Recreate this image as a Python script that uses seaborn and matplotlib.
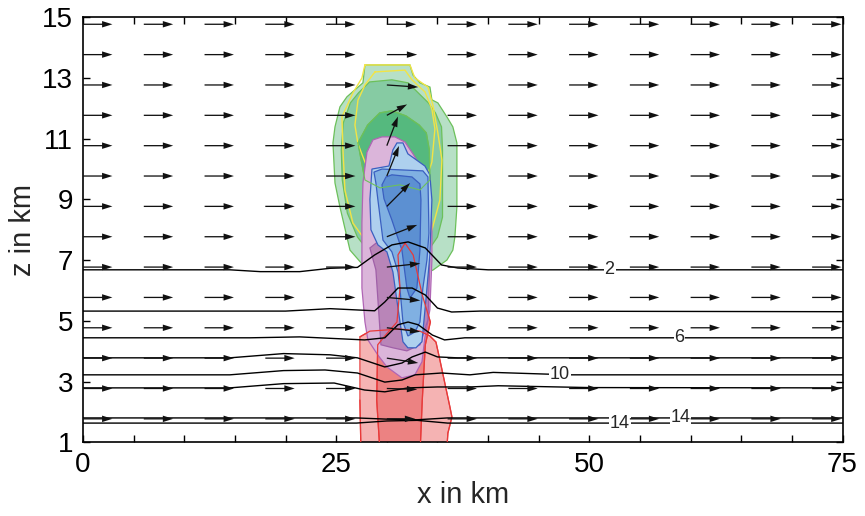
import numpy as np
import pandas as pd
import matplotlib
matplotlib.use("Agg")
import matplotlib.pyplot as plt
from matplotlib.ticker import FixedLocator, MultipleLocator
import seaborn as sns

# ---------------- data ----------------
x_major = [0, 25, 50, 75]
z_major = [1, 3, 5, 7, 9, 11, 13, 15]

# wind vectors (grid of arrow tails)
arrow_x = [0, 6, 12, 18, 24, 30, 36, 42, 48, 54, 60, 66, 72]
arrow_z = [1.77, 2.77, 3.77, 4.77, 5.77, 6.77, 7.77, 8.77, 9.77, 10.77, 11.77, 12.77, 13.77, 14.77]
env_u = 2.9
env_w = 0.0
storm_x = 30
storm_u = [2.8, 3.0, 3.1, 3.3, 3.3, 3.3, 3.0, 2.3, 1.2, 1.1, 2.0, 3.1, 3.0, 2.9]
storm_w = [0.0, -0.03, -0.16, -0.13, -0.10, 0.12, 0.39, 0.77, 0.99, 0.96, 0.36, -0.07, 0.0, 0.0]

# isotherms
iso_a_x = [0, 14.5, 17.5, 21.4, 24.4, 27.1, 28.8, 30.5, 32.1, 33.8, 35.4, 37.0, 40, 75]
iso_a_z = [6.68, 6.68, 6.62, 6.62, 6.73, 6.76, 7.17, 7.50, 7.60, 7.40, 6.84, 6.74, 6.68, 6.68]
iso_b_x = [0, 20, 24.4, 28.8, 29.8, 31.1, 32.5, 33.8, 35.0, 36.4, 39.2, 75]
iso_b_z = [5.32, 5.32, 5.40, 5.33, 5.62, 6.08, 6.08, 5.85, 5.42, 5.29, 5.32, 5.30]
iso_c_x = [0, 16.5, 21.4, 27.8, 29.8, 31.1, 32.1, 33.1, 34.5, 35.7, 37.7, 75]
iso_c_z = [4.44, 4.44, 4.47, 4.37, 4.44, 4.87, 4.96, 4.87, 4.53, 4.37, 4.44, 4.44]
iso_d_x = [0, 14.5, 19.8, 24.4, 27.1, 29.8, 31.5, 32.5, 33.8, 35.0, 37.0, 75]
iso_d_z = [3.78, 3.78, 3.92, 3.88, 3.78, 3.48, 3.61, 3.81, 3.97, 3.81, 3.78, 3.78]
iso_e_x = [0, 14.5, 19.8, 23.9, 27.1, 29.8, 31.5, 32.8, 35.4, 38.2, 40.5, 48, 75]
iso_e_z = [3.22, 3.22, 3.36, 3.38, 3.28, 2.98, 3.05, 3.22, 3.28, 3.22, 3.30, 3.22, 3.22]
iso_f_x = [0, 14.5, 19.8, 24.8, 27.8, 29.8, 32.1, 35.0, 38.2, 41.0, 50, 75]
iso_f_z = [2.79, 2.79, 2.93, 2.95, 2.72, 2.66, 2.79, 2.82, 2.82, 2.86, 2.80, 2.79]
iso_g_x = [0, 27, 30, 33, 36, 75]
iso_g_z = [1.80, 1.80, 1.76, 1.74, 1.80, 1.80]
iso_h_x = [0, 27, 30, 33, 36, 75]
iso_h_z = [1.63, 1.63, 1.70, 1.72, 1.63, 1.63]

label_text = ["2", "6", "10", "14", "14"]
label_x = [52.0, 58.9, 47.1, 59.0, 53.0]
label_z = [6.68, 4.44, 3.22, 1.80, 1.63]

# hydrometeor regions (outlines in km)
red_light_x = [27.34, 28.33, 31.29, 33.27, 34.25, 34.85, 35.24, 36.23, 36.43, 36.03, 35.93, 27.44, 27.34]
red_light_z = [4.47, 4.66, 4.73, 4.66, 4.50, 4.30, 3.71, 2.16, 1.83, 1.30, 0.80, 0.80, 2.39]
red_dark_x = [31.8, 31.1, 31.3, 31.0, 29.8, 29.1, 29.0, 29.3, 33.3, 33.5, 33.8, 34.3, 33.5, 32.6]
red_dark_z = [7.56, 7.17, 6.08, 4.96, 4.50, 4.21, 2.39, 0.80, 0.80, 2.39, 4.21, 4.96, 5.85, 7.17]

green_out_x = [27.84, 32.28, 32.58, 33.27, 34.26, 34.45, 35.04, 35.93, 36.52, 36.92, 36.92, 36.92, 36.72, 36.52,
               35.93, 34.55, 33.27, 31.79, 30.80, 29.62, 27.64, 26.36, 25.37, 24.88, 24.68, 24.88, 25.37, 26.06, 27.64]
green_out_z = [13.43, 13.43, 13.10, 12.84, 12.70, 12.28, 12.18, 11.72, 11.39, 10.86, 9.54, 8.75, 7.76, 7.33,
               7.00, 6.67, 6.51, 6.61, 6.84, 6.51, 6.84, 7.33, 8.75, 9.54, 10.86, 11.39, 12.05, 12.38, 12.84]
green_mid_x = [28.3, 30.5, 32.1, 33.1, 34.1, 34.8, 35.4, 35.5, 35.5, 35.0, 34.0, 33.27, 31.29, 29.32,
               28.1, 27.1, 26.1, 25.6, 25.5, 25.7, 26.4, 27.2]
green_mid_z = [12.87, 12.94, 12.84, 12.51, 12.18, 11.85, 11.39, 10.63, 8.42, 7.76, 7.27, 6.94, 7.07, 6.94,
               7.33, 7.76, 8.55, 9.64, 10.63, 11.52, 12.18, 12.51]
green_in_x = [27.15, 28.1, 29.3, 30.5, 31.9, 33.2, 33.9, 34.2, 34.25, 33.27, 31.29, 29.32, 27.84, 27.5]
green_in_z = [10.86, 11.45, 11.85, 11.92, 11.75, 11.45, 11.19, 10.63, 9.64, 9.31, 9.48, 9.38, 9.64, 10.23]

yellow_out_x = [27.84, 32.28, 32.77, 34.06, 34.55, 35.04, 35.44, 35.24, 34.45, 33.27, 32.58, 31.00, 28.63, 27.64,
                26.65, 25.86, 25.67, 25.57, 26.65, 27.54, 27.84]
yellow_out_z = [13.43, 13.43, 13.00, 12.70, 12.11, 11.19, 10.30, 8.98, 7.99, 7.33, 7.17, 7.07, 7.43, 7.76,
                8.22, 9.31, 10.63, 11.72, 12.51, 13.00, 13.43]
yellow_in_x = [28.83, 31.79, 32.48, 33.77, 34.45, 34.75, 34.45, 33.47, 32.08, 29.82, 28.53, 27.84, 27.15, 26.85,
               27.15, 27.84, 28.83]
yellow_in_z = [13.20, 13.26, 12.94, 12.54, 11.98, 11.32, 10.23, 9.25, 9.25, 9.35, 9.68, 10.23, 10.83, 11.45,
               12.27, 12.77, 13.20]

lav_x = [28.63, 29.52, 30.80, 31.79, 32.58, 33.27, 34.25, 34.45, 34.45, 34.25, 33.76, 33.47, 32.77, 31.49,
         30.01, 29.12, 28.13, 27.84, 27.54, 27.54, 27.64, 28.04]
lav_z = [10.96, 11.06, 11.06, 10.89, 10.50, 10.13, 9.64, 7.99, 7.00, 5.36, 4.44, 3.65, 3.22, 3.12,
         3.48, 3.87, 4.37, 4.96, 6.08, 8.22, 9.54, 10.56]
purple_x = [28.33, 29.32, 33.76, 34.25, 34.06, 33.27, 31.98, 30.60, 29.42, 29.12, 28.92]
purple_z = [7.40, 7.66, 7.66, 7.00, 5.03, 4.21, 4.01, 4.11, 4.21, 5.69, 6.68]

blue_l_x = [30.60, 31.00, 31.59, 32.08, 33.76, 34.25, 34.45, 34.25, 33.86, 33.47, 32.87, 32.08, 31.59, 31.10,
            30.60, 30.01, 29.12, 28.43, 28.33, 28.53, 30.21]
blue_l_z = [10.63, 10.86, 10.86, 10.50, 10.10, 9.81, 8.98, 7.17, 5.69, 4.31, 4.11, 4.11, 4.31, 5.42,
            6.61, 7.27, 7.50, 8.00, 9.00, 10.00, 10.10]
blue_m_x = [28.73, 29.52, 33.56, 34.06, 34.16, 33.96, 33.56, 33.27, 32.77, 32.08, 31.59, 31.29, 31.10, 30.50,
            29.62, 29.12, 28.92]
blue_m_z = [9.90, 10.00, 9.94, 9.74, 7.89, 7.00, 6.08, 4.96, 4.63, 4.50, 4.96, 6.08, 6.61, 7.27,
            7.66, 8.98, 9.54]
blue_d_x = [29.92, 30.50, 32.48, 33.27, 33.37, 33.27, 32.97, 32.28, 31.98, 31.49, 30.50, 29.72, 29.52]
blue_d_z = [9.74, 9.81, 9.74, 9.51, 8.98, 7.33, 6.08, 5.75, 6.08, 7.33, 8.32, 9.02, 9.48]

# ---------------- style ----------------
sns.set_theme(style="ticks")
plt.rcParams["font.family"] = ["Liberation Sans Narrow", "Liberation Sans", "DejaVu Sans"]

fig = plt.figure(figsize=(8.65, 5.16), dpi=100)
ax = fig.add_axes([0.096, 0.143, 0.878, 0.8235])


def region(xs, zs, fc, ec, z, lw=0.9):
    ax.fill(xs, zs, facecolor=fc, edgecolor=ec, lw=lw, zorder=z)


region(red_light_x, red_light_z, "#f5b3b3", "#e84a4a", 1.0)
region(red_dark_x, red_dark_z, "#ec8282", "#e84a4a", 1.1)
region(green_out_x, green_out_z, "#b7e0c6", "#6cc05a", 2.0)
region(green_mid_x, green_mid_z, "#86cba3", "#6cc05a", 2.1)
region(green_in_x, green_in_z, "#55b97e", "#6cc05a", 2.2)
ax.plot(yellow_out_x, yellow_out_z, color="#f2e445", lw=1.0, zorder=2.5)
ax.plot(yellow_in_x, yellow_in_z, color="#f2e445", lw=1.0, zorder=2.5)
region(lav_x, lav_z, "#dbb5da", "#b065b5", 3.0)
region(purple_x, purple_z, "#b985b8", "#a060a8", 3.1)
region(blue_l_x, blue_l_z, "#aed0ee", "#3a5fc0", 4.0)
region(blue_m_x, blue_m_z, "#80b0e2", "#3a5fc0", 4.1)
region(blue_d_x, blue_d_z, "#5c90d2", "#3a5fc0", 4.2)
# thin outlines drawn over the fills
ax.plot(green_in_x + green_in_x[:1], green_in_z + green_in_z[:1], color="#6cc05a", lw=0.8, zorder=4.4)
ax.plot(red_light_x, red_light_z, color="#e83a3a", lw=0.9, zorder=4.5)
ax.plot(red_dark_x + red_dark_x[:1], red_dark_z + red_dark_z[:1], color="#e83a3a", lw=0.9, zorder=4.5)

# isotherms via seaborn
iso_sets = [(iso_a_x, iso_a_z), (iso_b_x, iso_b_z), (iso_c_x, iso_c_z), (iso_d_x, iso_d_z),
            (iso_e_x, iso_e_z), (iso_f_x, iso_f_z), (iso_g_x, iso_g_z), (iso_h_x, iso_h_z)]
rows = []
for i, (xs, zs) in enumerate(iso_sets):
    for k, (xv, zv) in enumerate(zip(xs, zs)):
        rows.append({"x": xv, "z": zv, "line": i, "order": k})
iso_df = pd.DataFrame(rows)
sns.lineplot(data=iso_df, x="x", y="z", units="line", estimator=None, sort=False,
             color="black", lw=1.0, ax=ax, legend=False, zorder=5)
for t, xv, zv in zip(label_text, label_x, label_z):
    ax.text(xv, zv, t, ha="center", va="center", fontsize=13, zorder=5.5,
            bbox=dict(facecolor="white", edgecolor="none", pad=0.6))

# wind arrows
X, Z = np.meshgrid(np.array(arrow_x, float), np.array(arrow_z, float))
U = np.full(X.shape, env_u)
W = np.full(X.shape, env_w)
col = arrow_x.index(storm_x)
U[:, col] = storm_u
W[:, col] = storm_w
ax.quiver(X, Z, U, W, angles="xy", scale_units="xy", scale=1, color="#111111",
          width=0.0017, headwidth=5, headlength=8, headaxislength=8, zorder=6)

ax.set_xlim(0, 75)
ax.set_ylim(1, 15)
ax.xaxis.set_major_locator(FixedLocator(x_major))
ax.xaxis.set_minor_locator(MultipleLocator(5))
ax.yaxis.set_major_locator(FixedLocator(z_major))
ax.tick_params(which="both", direction="in", top=True, right=True, length=5, width=1.0,
               colors="black", labelsize=20, pad=7)
for s in ax.spines.values():
    s.set_linewidth(1.2)
    s.set_color("black")
ax.set_xlabel("x in km", fontsize=21, labelpad=2)
ax.set_ylabel("z in km", fontsize=21, labelpad=4)

fig.savefig("out.png", dpi=100)
